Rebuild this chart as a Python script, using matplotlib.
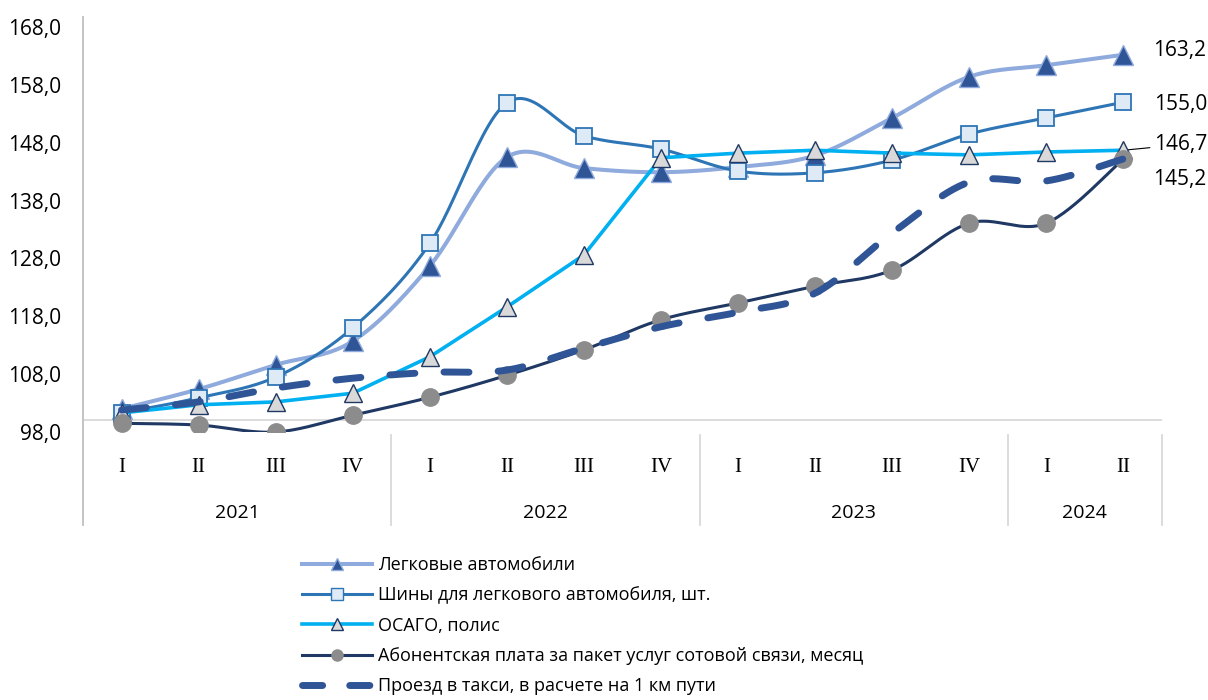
import numpy as np
import matplotlib
matplotlib.use("Agg")
import matplotlib.pyplot as plt
from matplotlib.lines import Line2D
import matplotlib.transforms as mtransforms

plt.rcParams['font.family'] = ['Open Sans', 'DejaVu Sans']

quarters = ["I", "II", "III", "IV", "I", "II", "III", "IV", "I", "II", "III", "IV", "I", "II"]
years = ["2021", "2022", "2023", "2024"]
year_sizes = [4, 4, 4, 2]

names = ["Легковые автомобили",
         "Шины для легкового автомобиля, шт.",
         "ОСАГО, полис",
         "Абонентская плата за пакет услуг сотовой связи, месяц",
         "Проезд в такси, в расчете на 1 км пути"]

cars = [102.0, 105.4, 109.6, 113.7, 126.7, 145.5, 143.6, 142.9, 143.8, 145.8, 152.3, 159.4, 161.4, 163.2]
tires = [101.3, 103.9, 107.5, 116.0, 130.6, 154.9, 149.2, 146.9, 143.1, 142.8, 145.0, 149.5, 152.3, 155.0]
osago = [101.3, 102.7, 103.2, 104.7, 111.0, 119.6, 128.6, 145.4, 146.2, 146.7, 146.2, 145.9, 146.4, 146.7]
mobile = [99.5, 99.2, 98.0, 100.9, 104.0, 107.8, 112.2, 117.4, 120.3, 123.2, 126.0, 134.1, 134.1, 145.2]
taxi = [101.8, 103.2, 105.6, 107.3, 108.3, 108.7, 112.5, 116.2, 118.7, 122.0, 132.4, 141.2, 141.4, 145.2]

yticks = [98.0, 108.0, 118.0, 128.0, 138.0, 148.0, 158.0, 168.0]


def smooth(x, y, n=30):
    x = np.asarray(x, float)
    y = np.asarray(y, float)
    P = np.column_stack([x, y])
    m = len(P)
    out = []
    for i in range(m - 1):
        p0 = P[i - 1] if i > 0 else P[i]
        p1 = P[i]
        p2 = P[i + 1]
        p3 = P[i + 2] if i + 2 < m else P[i + 1]
        c1 = p1 + (p2 - p0) / 6.0
        c2 = p2 - (p3 - p1) / 6.0
        t = np.linspace(0, 1, n)[:, None]
        seg = ((1 - t) ** 3) * p1 + 3 * ((1 - t) ** 2) * t * c1 + 3 * (1 - t) * t ** 2 * c2 + t ** 3 * p2
        if i > 0:
            seg = seg[1:]
        out.append(seg)
    out = np.vstack(out)
    return out[:, 0], out[:, 1]


fig = plt.figure(figsize=(12.08, 7.0), dpi=100)
ax = fig.add_axes([83 / 1208, 1 - 432 / 700, (1162 - 83) / 1208, 405 / 700])

x = np.arange(len(quarters)) + 0.5

c_cars_line = "#8FAADC"
c_dark = "#2F5597"
c_tires = "#2E75B6"
c_osago = "#00B0F0"
c_navy = "#1F3864"

# Легковые
sx, sy = smooth(x, cars)
ax.plot(sx, sy, color=c_cars_line, lw=2.9, solid_capstyle='round', zorder=3)
ax.plot(x, cars, ls='none', marker='^', ms=14, mfc=c_dark, mec=c_cars_line, mew=1.0, zorder=3)
# Шины
sx, sy = smooth(x, tires)
ax.plot(sx, sy, color=c_tires, lw=2.2, zorder=4)
ax.plot(x, tires, ls='none', marker='s', ms=12, mfc="#DEEBF7", mec=c_tires, mew=1.3, zorder=4)
# ОСАГО
ax.plot(x, osago, color=c_osago, lw=2.6, zorder=5)
ax.plot(x, osago, ls='none', marker='^', ms=12.5, mfc="#D9D9D9", mec=c_navy, mew=1.0, zorder=5)
# Абонентская
sx, sy = smooth(x, mobile)
ax.plot(sx, sy, color=c_navy, lw=2.2, zorder=6)
ax.plot(x, mobile, ls='none', marker='o', ms=12.5, mfc="#8C8C8C", mec="#8C8C8C", zorder=6)
# Такси
sx, sy = smooth(x, taxi)
ax.plot(sx, sy, color=c_dark, lw=5, dashes=(3.6, 4.2), dash_capstyle='round', zorder=7)

ax.set_xlim(0, len(quarters))
ax.set_ylim(98, 168)
ax.set_yticks(yticks)
ax.set_yticklabels([f"{v:.1f}".replace('.', ',') for v in yticks], fontsize=15, color="#000000")
ax.tick_params(axis='y', length=0, pad=16)
ax.set_xticks([])
for s in ax.spines.values():
    s.set_visible(False)

# horizontal axis line at 100
ax.axhline(100, color="#D9D9D9", lw=1.3, zorder=1)

trans_ax = ax.transAxes
blend = mtransforms.blended_transform_factory(ax.transData, ax.transAxes)
# left vertical axis line
ax.add_line(Line2D([0, 0], [1 + 10 / 405, -93 / 405], transform=trans_ax, color="#BFBFBF", lw=1.3, clip_on=False))

# category labels
for xi, q in zip(x, quarters):
    ax.text(xi, -35 / 405, q, transform=blend, ha='center', va='center', fontsize=15,
            family=['Liberation Serif', 'DejaVu Serif'], color="#000000")
start = 0
seps = [0]
for yr, n in zip(years, year_sizes):
    ax.text(start + n / 2, -81 / 405, yr, transform=blend, ha='center', va='center', fontsize=14, color="#000000")
    start += n
    seps.append(start)
for sxp in seps[1:]:
    ax.add_line(Line2D([sxp, sxp], [-3 / 405, -93 / 405], transform=blend, color="#D9D9D9", lw=1.3, clip_on=False))

# end labels
xl = x[-1]
ax.annotate("163,2", (xl, cars[-1]), xytext=(21, 3), textcoords='offset points', fontsize=15, va='center', ha='left')
ax.annotate("155,0", (xl, tires[-1]), xytext=(22, -2), textcoords='offset points', fontsize=15, va='center', ha='left')
ax.annotate("146,7", (xl, osago[-1]), xytext=(22, 4), textcoords='offset points', fontsize=15, va='center', ha='left',
            arrowprops=dict(arrowstyle='-', color='black', lw=0.8, shrinkA=1, shrinkB=0))
ax.annotate("145,2", (xl, mobile[-1]), xytext=(21, -14.5), textcoords='offset points', fontsize=15, va='center', ha='left')

# legend
handles = [
    Line2D([], [], color=c_cars_line, lw=2.9, marker='^', ms=8, mfc=c_dark, mec=c_cars_line),
    Line2D([], [], color=c_tires, lw=2.2, marker='s', ms=8, mfc="#DEEBF7", mec=c_tires),
    Line2D([], [], color=c_osago, lw=2.6, marker='^', ms=8, mfc="#D9D9D9", mec=c_navy),
    Line2D([], [], color=c_navy, lw=2.2, marker='o', ms=8, mfc="#8C8C8C", mec="#8C8C8C"),
    Line2D([], [], color=c_dark, lw=5, dashes=(2.9, 3.9), dash_capstyle='round'),
]
fig.legend(handles, names, loc='upper left', bbox_to_anchor=(302 / 1208, 1 - 556 / 700), frameon=False,
           fontsize=13, handlelength=3.9, handletextpad=0.3, labelspacing=0.68, borderaxespad=0, borderpad=0)

fig.savefig("out.png", dpi=100)
